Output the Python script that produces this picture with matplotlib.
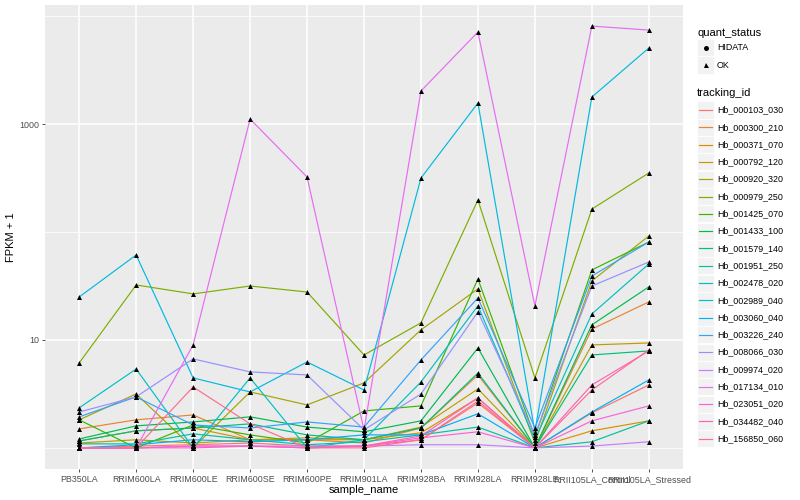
import numpy as np
import matplotlib
matplotlib.use("Agg")
import matplotlib.pyplot as plt
from matplotlib.patches import Rectangle
from matplotlib.lines import Line2D

plt.rcParams['font.family'] = ['Liberation Sans', 'DejaVu Sans']

samples = ["PB350LA", "RRIM600LA", "RRIM600LE", "RRIM600SE", "RRIM600PE",
           "RRIM901LA", "RRIM928BA", "RRIM928LA", "RRIM928LE",
           "RRII105LA_Control", "RRII105LA_Stressed"]

tracking_ids = ["Hb_000103_030", "Hb_000300_210", "Hb_000371_070", "Hb_000792_120",
                "Hb_000920_320", "Hb_000979_250", "Hb_001425_070", "Hb_001433_100",
                "Hb_001579_140", "Hb_001951_250", "Hb_002478_020", "Hb_002989_040",
                "Hb_003060_040", "Hb_003226_240", "Hb_008066_030", "Hb_009974_020",
                "Hb_017134_010", "Hb_023051_020", "Hb_034482_040", "Hb_156850_060"]

# ggplot default hue palette, 20 levels
colors = ["#F8766D", "#EA8331", "#D89000", "#C09B00", "#A3A500", "#7CAE00",
          "#39B600", "#00BB4E", "#00BF7D", "#00C1A3", "#00BFC4", "#00BAE0",
          "#00B0F6", "#35A2FF", "#9590FF", "#C77CFF", "#E76BF3", "#FA62DB",
          "#FF62BC", "#FF6C91"]

# FPKM per tracking_id, one value per sample
fpkm = [
    [0, 0.04, 0.07, 0.11, 0.04, 0.04, 0.19, 1.61, 0, 1.11, 2.83],
    [0.50, 0.82, 1.02, 0.19, 0.19, 0.11, 0.53, 3.74, 0, 11.6, 21.5],
    [0.16, 0.44, 0.53, 0.19, 0.19, 0.19, 0.38, 1.90, 0, 0.44, 0.78],
    [0.11, 0.19, 0.11, 0.19, 0.24, 0.19, 0.56, 2.52, 0, 7.99, 8.38],
    [0.82, 2.16, 0, 2.30, 1.50, 3.00, 11.4, 28.7, 0.11, 34.2, 90.8],
    [5.12, 31.3, 25.7, 30.6, 26.8, 6.26, 13.4, 197, 3.45, 162, 351],
    [0.82, 0, 0.63, 0.32, 0.11, 1.20, 1.45, 35.7, 0.26, 43.5, 79.8],
    [0.21, 0.60, 0.74, 0.94, 0.56, 0.41, 0.78, 7.43, 0, 12.8, 30.0],
    [0.16, 0.44, 0.53, 0.67, 0.32, 0.19, 0.53, 3.94, 0, 6.26, 6.91],
    [0.09, 0.09, 0.35, 0.19, 0.07, 0.14, 0.32, 0.56, 0, 0.14, 0.78],
    [1.35, 4.38, 0, 3.45, 0, 0.19, 3.08, 19.7, 0.19, 16.4, 49.6],
    [24.0, 60.2, 3.45, 2.30, 5.25, 2.44, 315, 1563, 0.41, 1777, 5057],
    [0, 0.07, 0.19, 0.14, 0.19, 0.32, 0.32, 1.07, 0, 1.15, 3.26],
    [0.94, 1.97, 0.63, 0.53, 0.74, 0.56, 5.53, 23.5, 0.53, 38.1, 79.8],
    [1.15, 1.97, 5.67, 4.06, 3.74, 0.47, 2.16, 17.2, 0.32, 30.6, 51.7],
    [0, 0, 0.04, 0.04, 0.04, 0.04, 0.07, 0.07, 0, 0.04, 0.14],
    [0, 0, 7.99, 1111, 322, 0.47, 2021, 7111, 19.7, 8071, 7412],
    [0, 0, 0.04, 0.04, 0, 0.04, 0.24, 0.41, 0, 0.78, 1.45],
    [0, 0, 0, 0.04, 0, 0.04, 0.29, 1.90, 0, 2.83, 6.91],
    [0, 0, 2.67, 0.67, 0, 0, 0.19, 1.72, 0, 2.44, 7.08],
]

quant_levels = ["HIDATA", "OK"]
quant_markers = {"HIDATA": "o", "OK": "^"}
# all points read as OK
quant_status = [["OK"] * len(samples) for _ in tracking_ids]

W, H = 800, 500
fig = plt.figure(figsize=(8, 5), dpi=100)


def fx(px):
    return px / W


def fy(py):
    return 1 - py / H


# panel in pixels: left 45, right 683, top 5, bottom 469
ax = fig.add_axes([fx(45), fy(469), fx(683) - fx(45), fy(5) - fy(469)])
ax.set_facecolor("#EBEBEB")
for s in ax.spines.values():
    s.set_visible(False)

x = np.arange(len(samples))
for i, tid in enumerate(tracking_ids):
    y = np.array(fpkm[i]) + 1
    ax.plot(x, y, color=colors[i], lw=0.85, zorder=3)
for i, tid in enumerate(tracking_ids):
    y = np.array(fpkm[i]) + 1
    for lev in quant_levels:
        m = np.array([st == lev for st in quant_status[i]])
        if m.any():
            ax.scatter(x[m], y[m], marker=quant_markers[lev], s=13, color="black",
                       linewidths=0, zorder=4)

ax.set_yscale("log")
lo, hi = 0.0, np.log10(max(max(r) for r in fpkm) + 1)
pad = (hi - lo) * 0.05
ax.set_ylim(10 ** (lo - pad), 10 ** (hi + pad))
ax.set_xlim(-0.6, len(samples) - 0.4)

ax.set_yticks([10, 1000])
ax.set_yticklabels(["10", "1000"])
ax.set_yticks([1, 100, 10000], minor=True)
ax.yaxis.set_minor_formatter(matplotlib.ticker.NullFormatter())
ax.set_xticks(x)
ax.set_xticklabels(samples)

ax.grid(True, which="major", color="white", lw=1.1, zorder=0)
ax.grid(True, which="minor", axis="y", color="white", lw=0.55, zorder=0)
ax.set_axisbelow(True)
ax.tick_params(axis="both", which="major", length=2.2, width=0.6, color="#333333",
               labelsize=6.4, labelcolor="#4D4D4D", pad=2)
ax.tick_params(axis="y", which="minor", length=0)

ax.set_xlabel("sample_name", fontsize=8, color="black", labelpad=1)
ax.set_ylabel("FPKM + 1", fontsize=8, color="black", labelpad=2)

# legends, drawn in figure pixels
key_x, key_w = 697, 17
lab_x = 717


def key_box(cy):
    fig.add_artist(Rectangle((fx(key_x), fy(cy + key_w / 2)), key_w / W, key_w / H,
                             transform=fig.transFigure, facecolor="#F2F2F2",
                             edgecolor="white", lw=0.6))


fig.text(fx(697), fy(33), "quant_status", fontsize=8, va="center", ha="left")
for j, lev in enumerate(quant_levels):
    cy = 48 + j * 17
    key_box(cy)
    fig.add_artist(Line2D([fx(key_x + key_w / 2)], [fy(cy)], marker=quant_markers[lev],
                          markersize=3.6, color="black", markeredgewidth=0,
                          linestyle="none", transform=fig.transFigure))
    fig.text(fx(lab_x), fy(cy), lev, fontsize=6.4, va="center", ha="left")

fig.text(fx(697), fy(93), "tracking_id", fontsize=8, va="center", ha="left")
for i, tid in enumerate(tracking_ids):
    cy = 110 + i * 17.3
    key_box(cy)
    fig.add_artist(Line2D([fx(key_x + 2), fx(key_x + key_w - 2)], [fy(cy), fy(cy)],
                          color=colors[i], lw=0.85, transform=fig.transFigure))
    fig.text(fx(lab_x), fy(cy), tid, fontsize=6.4, va="center", ha="left")

fig.savefig("out.png", dpi=100)
